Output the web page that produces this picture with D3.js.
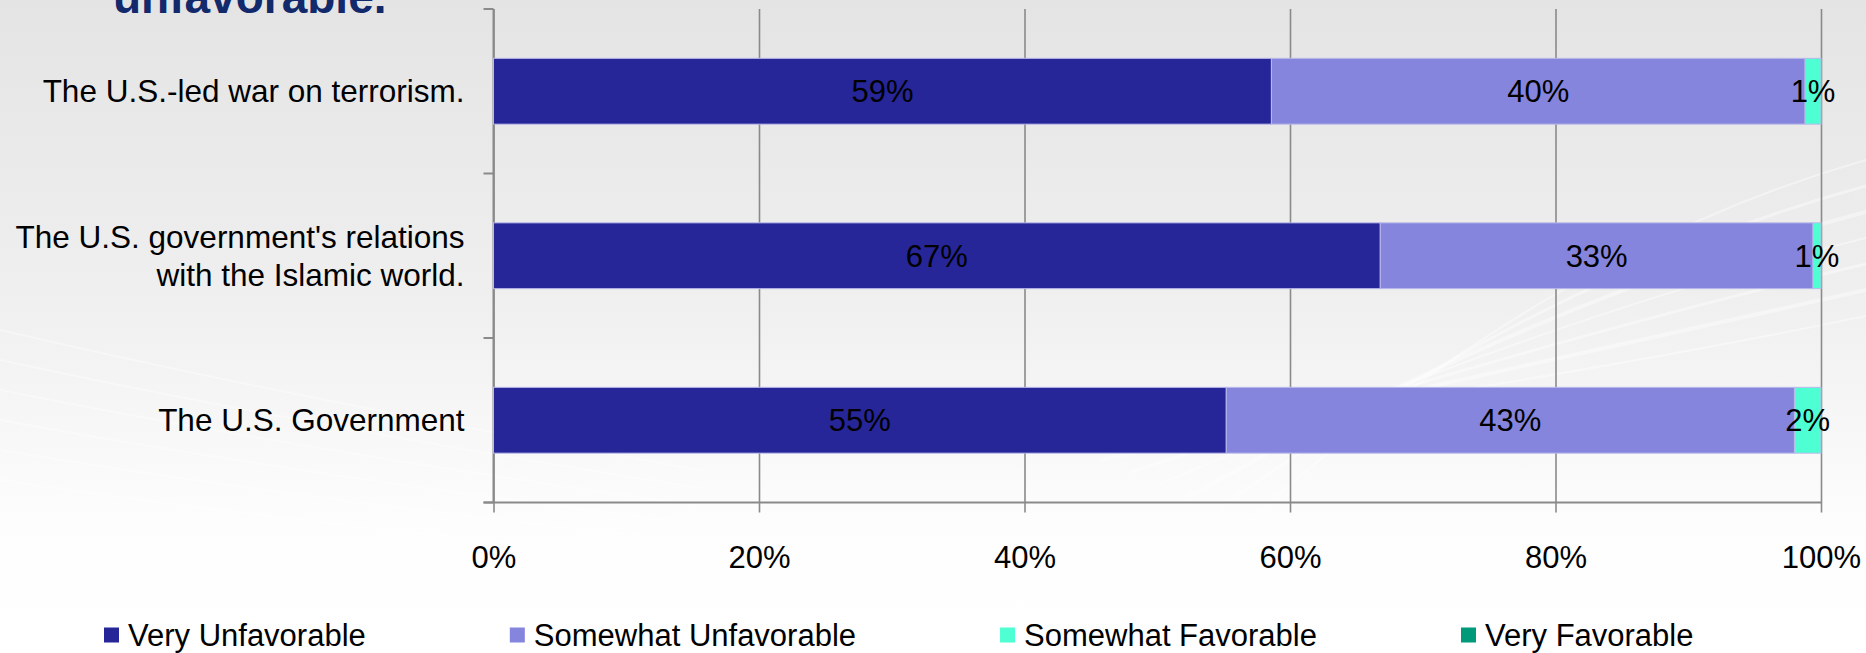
<!DOCTYPE html>
<html>
<head>
<meta charset="utf-8">
<script src="https://cdn.jsdelivr.net/npm/d3@7"></script>
<style>
  html, body { margin: 0; padding: 0; overflow: hidden; }
  #main { width: 1866px; height: 653px; }
  text { font-family: "Liberation Sans", Arial, sans-serif; }
</style>
</head>
<body>
<div id="main"></div>
<script>
const categories = [
  "The U.S.-led war on terrorism.",
  "The U.S. government's relations\nwith the Islamic world.",
  "The U.S. Government"
];
const seriesNames = ["Very Unfavorable", "Somewhat Unfavorable", "Somewhat Favorable", "Very Favorable"];
const seriesColors = ["#262699", "#8585dd", "#4dffd2", "#00997a"];
const veryUnfavorable = [58.6, 66.8, 55.2];
const somewhatUnfavorable = [40.2, 32.6, 42.8];
const somewhatFavorable = [1.2, 0.6, 2.0];
const veryFavorable = [0, 0, 0];
const xTicks = [0, 20, 40, 60, 80, 100];
const titleTail = "unfavorable.";

class StackedBars {
  constructor(config) {
    this.config = config;
    this.svg = null;
    this.plot = null;
    this.x = null;
    this.y = null;
    this.rows = categories.map((c, i) => ({
      category: c,
      "Very Unfavorable": veryUnfavorable[i],
      "Somewhat Unfavorable": somewhatUnfavorable[i],
      "Somewhat Favorable": somewhatFavorable[i],
      "Very Favorable": veryFavorable[i]
    }));
    this.createSvg();
  }

  createSvg() {
    this.svg = d3.select(this.config.div)
      .append("svg")
      .attr("width", this.config.width)
      .attr("height", this.config.height);

    const defs = this.svg.append("defs");
    const grad = defs.append("linearGradient")
      .attr("id", "bg").attr("x1", 0).attr("y1", 0).attr("x2", 0).attr("y2", 1);
    grad.append("stop").attr("offset", "0%").attr("stop-color", "#e5e4e5");
    grad.append("stop").attr("offset", "45%").attr("stop-color", "#efefef");
    grad.append("stop").attr("offset", "80%").attr("stop-color", "#fdfdfd");
    grad.append("stop").attr("offset", "100%").attr("stop-color", "#ffffff");

    this.svg.append("rect")
      .attr("width", this.config.width)
      .attr("height", this.config.height)
      .attr("fill", "url(#bg)");

    // faint white swooshes of the slide background
    const sw = this.svg.append("g").attr("fill", "none").attr("stroke", "#ffffff");
    for (let k = 0; k < 7; k++) {
      sw.append("path")
        .attr("d", `M ${1250 - k * 30} ${520 - k * 12} Q 1550 ${250 + k * 22} 1866 ${160 + k * 26}`)
        .attr("stroke-width", 2 + (k % 3))
        .attr("opacity", 0.4);
    }
    for (let k = 0; k < 6; k++) {
      sw.append("path")
        .attr("d", `M 0 ${330 + k * 30} Q 300 ${400 + k * 25} 700 ${470 + k * 18}`)
        .attr("stroke-width", 2)
        .attr("opacity", 0.35);
    }

    this.svg.append("text")
      .attr("x", 113)
      .attr("y", 13)
      .style("font-size", "46px")
      .style("font-weight", "bold")
      .attr("fill", "#12296b")
      .text(titleTail);

    this.plot = this.svg.append("g");
  }

  createScales() {
    const c = this.config;
    this.x = d3.scaleLinear().domain([0, 100]).range([c.left, c.right]);
    this.y = d3.scaleBand().domain(categories).range([c.top, c.bottom])
      .paddingInner(0.6).paddingOuter(0.3);
    this.color = d3.scaleOrdinal().domain(seriesNames).range(seriesColors);
  }

  createAxis() {
    const c = this.config;
    const h = c.bottom - c.top;

    // x axis with gridlines running up through the plot
    const gx = this.plot.append("g")
      .attr("transform", `translate(0,${c.bottom})`)
      .call(d3.axisBottom(this.x).tickValues(xTicks).tickFormat(d => d + "%").tickSizeOuter(0).tickPadding(37));
    gx.select(".domain").remove();
    gx.selectAll(".tick line")
      .attr("y1", 10).attr("y2", -h)
      .attr("stroke", "#8a8a8a").attr("stroke-width", 1.6);
    gx.selectAll(".tick text")
      .style("font-size", "31px").attr("fill", "#000");

    // y axis line and boundary ticks
    const bounds = d3.range(categories.length + 1).map(i => c.top + i * this.y.step());
    const gy = this.plot.append("g");
    gy.append("line")
      .attr("x1", c.left).attr("x2", c.left)
      .attr("y1", c.top).attr("y2", c.bottom)
      .attr("stroke", "#8a8a8a").attr("stroke-width", 2);
    gy.selectAll(".bt").data(bounds).enter().append("line")
      .attr("x1", c.left - 10).attr("x2", c.left)
      .attr("y1", d => d).attr("y2", d => d)
      .attr("stroke", "#8a8a8a").attr("stroke-width", 2);

    // bottom axis line
    this.plot.append("line")
      .attr("x1", c.left - 10).attr("x2", c.right)
      .attr("y1", c.bottom).attr("y2", c.bottom)
      .attr("stroke", "#8a8a8a").attr("stroke-width", 2.2);

    // category labels
    const labels = this.plot.append("g")
      .selectAll("text").data(categories).enter().append("text")
      .attr("text-anchor", "end")
      .attr("x", c.left - 29)
      .attr("y", d => this.y(d) + this.y.bandwidth() / 2)
      .style("font-size", "31.5px")
      .attr("fill", "#000");
    labels.each(function(d) {
      const lines = d.split("\n");
      const t = d3.select(this);
      const lh = 37.7;
      lines.forEach((ln, i) => {
        t.append("tspan")
          .attr("x", c.left - 29)
          .attr("dy", i === 0 ? (0.35 * 31.5 - (lines.length - 1) * lh / 2) + "px" : lh + "px")
          .text(ln);
      });
    });
  }

  createBars() {
    const stack = d3.stack().keys(seriesNames)(this.rows);
    const layer = this.plot.selectAll(".layer").data(stack).enter().append("g")
      .attr("fill", d => this.color(d.key));

    layer.selectAll("rect").data(d => d.filter(p => p[1] - p[0] > 0)).enter().append("rect")
      .attr("x", d => this.x(d[0]))
      .attr("y", d => this.y(d.data.category))
      .attr("width", d => this.x(d[1]) - this.x(d[0]))
      .attr("height", this.y.bandwidth())
      .attr("stroke", "#b9b9ea")
      .attr("stroke-width", 1);

    layer.selectAll("text").data(d => d.filter(p => p[1] - p[0] > 0)).enter().append("text")
      .attr("x", d => (this.x(d[0]) + this.x(d[1])) / 2)
      .attr("y", d => this.y(d.data.category) + this.y.bandwidth() / 2)
      .attr("dy", "0.35em")
      .attr("text-anchor", "middle")
      .attr("fill", "#000")
      .style("font-size", "31px")
      .text(d => Math.round(d[1] - d[0]) + "%");
  }

  createLegend() {
    const g = this.svg.append("g").attr("transform", "translate(104,635)");
    let xPos = 0;
    seriesNames.forEach(name => {
      const item = g.append("g").attr("transform", `translate(${xPos},0)`);
      item.append("rect")
        .attr("x", 0).attr("y", -7.5)
        .attr("width", 15).attr("height", 15)
        .attr("fill", this.color(name));
      const t = item.append("text")
        .attr("x", 24).attr("y", 0).attr("dy", "0.35em")
        .style("font-size", "31px")
        .attr("fill", "#000")
        .text(name);
      xPos += 24 + t.node().getComputedTextLength() + 144;
    });
  }
}

function main() {
  let c = {div: "#main", width: 1866, height: 653, top: 9, bottom: 502.5, left: 493.5, right: 1821};
  let chart = new StackedBars(c);
  chart.createScales();
  chart.createAxis();
  chart.createBars();
  chart.createLegend();
}

main();
</script>
</body>
</html>
